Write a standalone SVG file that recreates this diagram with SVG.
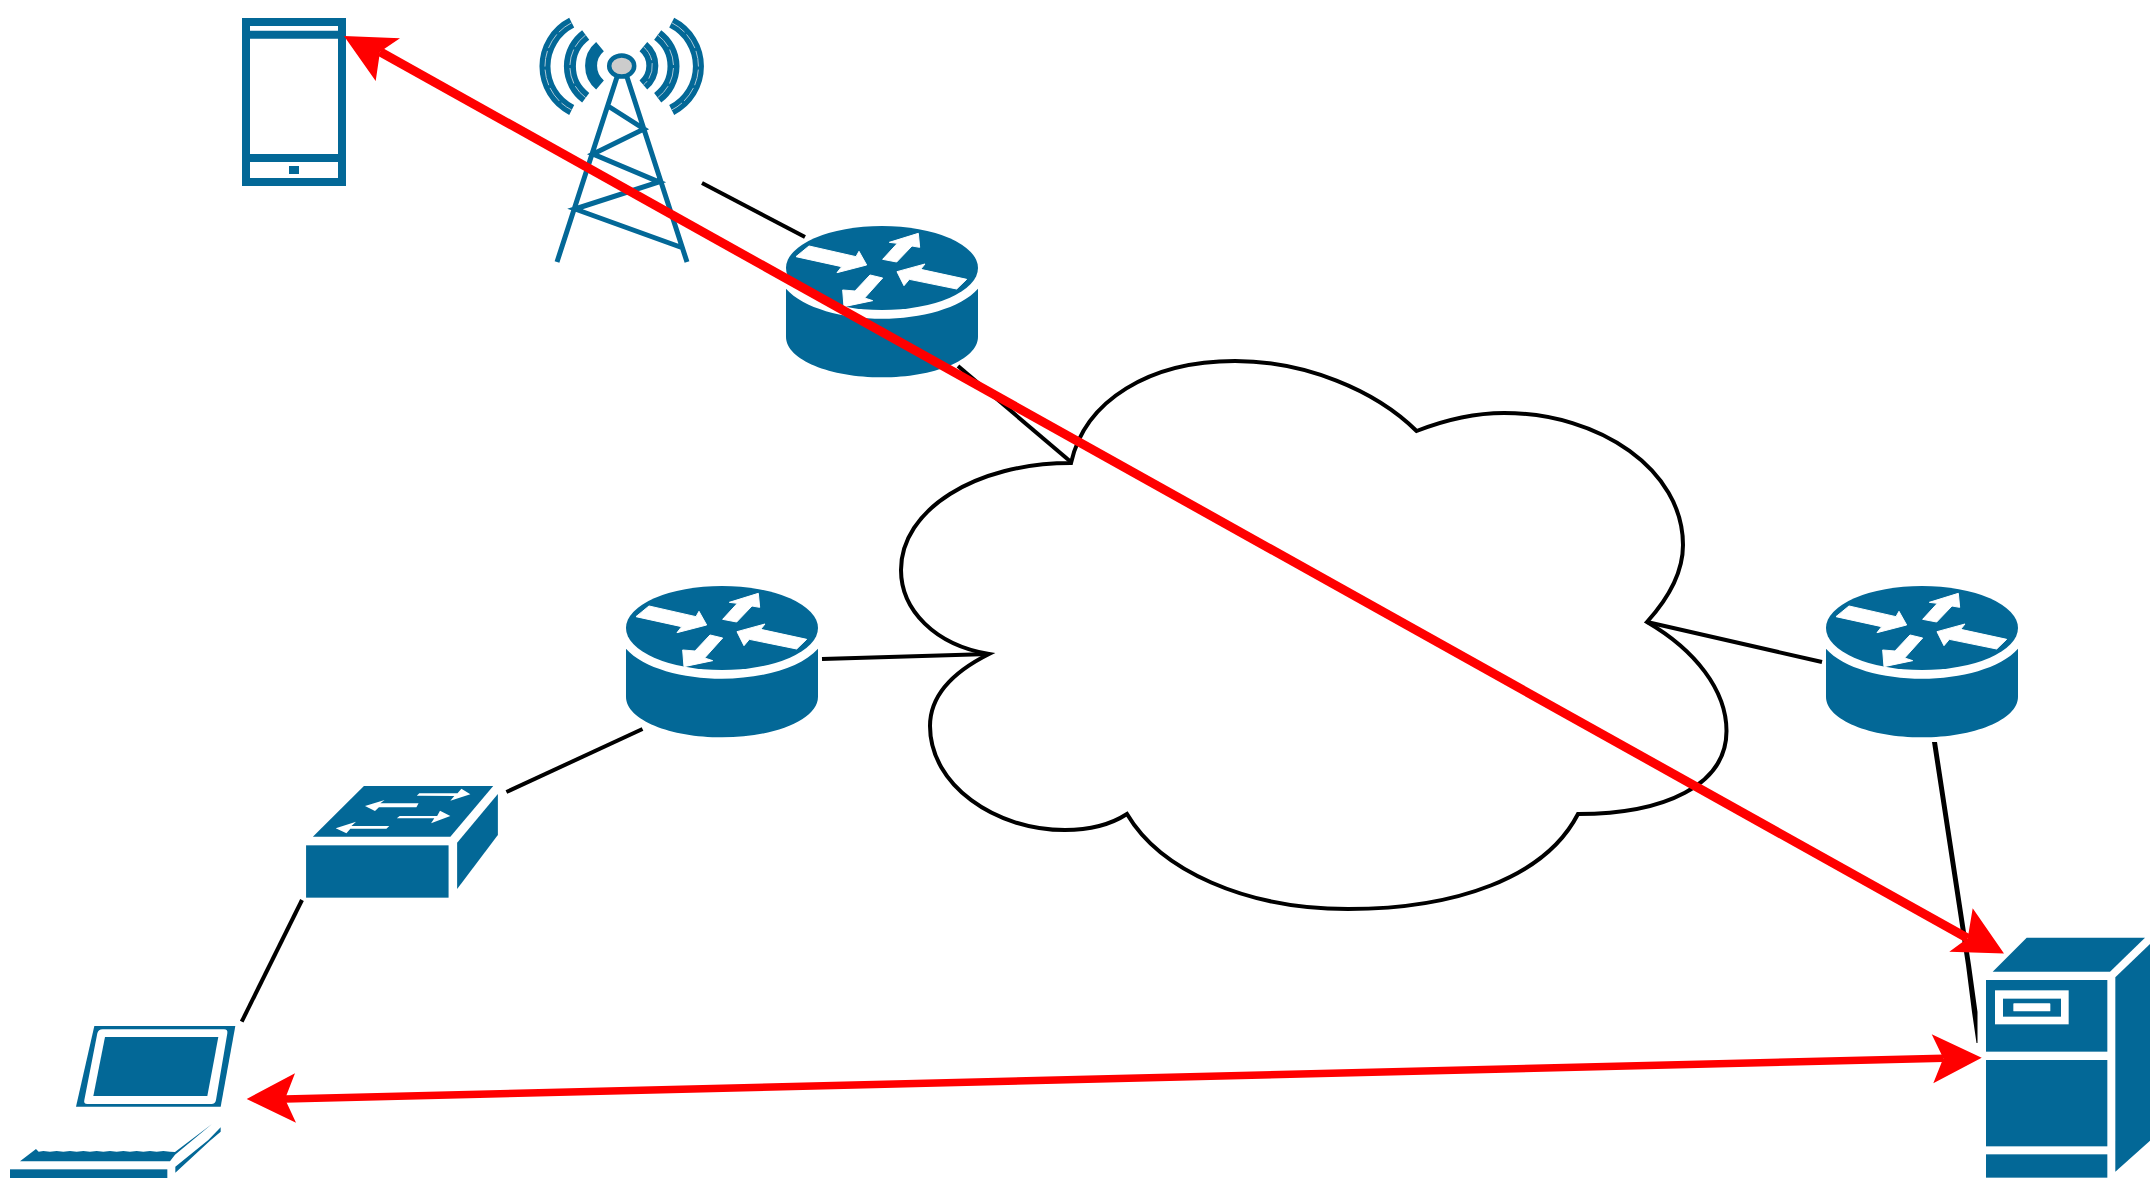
<svg xmlns="http://www.w3.org/2000/svg" width="2156" height="1188" viewBox="0 0 2156 1188">
<style>
.b{fill:#036897}
.w{fill:#fff}
.ra{fill:#fff;stroke:#fff;stroke-width:3}
.wire{stroke:#000;stroke-width:4;fill:none}
.red{stroke:#f00;stroke-width:9;fill:none}
.red2{stroke:#f00;stroke-width:7.5;fill:none}
.head{fill:#f00}
.tw{stroke:#036897;stroke-width:5;fill:none}
.arc{stroke:#036897;fill:none}
.hl{stroke:#a9c6d6;stroke-width:1;fill:none;stroke-dasharray:16 3}
</style>
<defs>
<g id="router-icon" transform="scale(0.33333)">
<ellipse class="b" cx="366" cy="174" rx="288" ry="126"/>
<path class="b" d="M78,236 C130,295 250,326 366,326 C482,326 602,295 654,236 V380 C654,450 520,502 366,502 C212,502 78,450 78,380 Z"/>
<polygon class="ra" points="108,140 147,108 288,140 297,124 320,165 231,188 245,170"/>
<polygon class="ra" points="368,148 412,100 388,97 475,70 479,112 456,108 410,156"/>
<polygon class="ra" points="620,208 590,237 448,208 432,227 411,185 495,162 482,178"/>
<polygon class="ra" points="368,204 330,195 285,243 248,240 252,290 338,272 314,264"/>
</g>
</defs>

<g id="cloud">
<path d="M1071,463 C1085,400 1150,361 1235,361 C1305,361 1375,390 1416.6,431 C1450,418 1478,413 1504,413 C1600,413 1683,470 1683,545 C1683,575 1666,601 1647,622 C1695,650 1726.5,690 1726.5,731 C1726.5,785 1665,814 1578,814 C1545,878 1455,909 1348,909 C1245,909 1160,870 1127,814 C1110,825 1090,830 1065,830 C995,830 930,785 930,726 C930,695 953,672 989,654 C935,645 901,610 901,570 C901,510 975,463 1071,463 Z" fill="#fff" stroke="#000" stroke-width="4"/>
</g>

<g id="phone">
<path class="b" fill-rule="evenodd" d="M242,18 H346 V186 H242 Z M250,26 V30.700 H338 V26 Z M250,38.700 V154 H338 V38.700 Z M250,162 V178 H338 V162 Z M289,166 H299 V174 H289 Z"/>
</g>

<g id="tower">
<ellipse cx="621.700" cy="66" rx="12.500" ry="10.500" fill="#ccc" stroke="#036897" stroke-width="4.500"/>
<path class="tw" d="M617,77 L557,262 M627,77 L687,262 M608,106 L644,129 L593,154 L659,182 L575,209 L683,248"/>
<path class="arc" stroke-width="12" d="M600,46.700 A25,25 0 0 0 600,85"/>
<path class="arc" stroke-width="12" d="M585.700,35 A39,39 0 0 0 585.700,97.700"/>
<path class="arc" stroke-width="11" d="M571.700,22.700 A49,49 0 0 0 571.700,110"/>
<path class="arc" stroke-width="12" d="M643.400,46.700 A25,25 0 0 1 643.400,85"/>
<path class="arc" stroke-width="12" d="M657.700,35 A39,39 0 0 1 657.700,97.700"/>
<path class="arc" stroke-width="11" d="M671.700,22.700 A49,49 0 0 1 671.700,110"/>
<path class="hl" d="M585.700,35 A39,39 0 0 0 585.700,97.700 M571.700,22.700 A49,49 0 0 0 571.700,110 M643.400,46.700 A25,25 0 0 1 643.400,85 M657.700,35 A39,39 0 0 1 657.700,97.700 M671.700,22.700 A49,49 0 0 1 671.700,110"/>
</g>

<g id="router-top"><use href="#router-icon" x="760" y="210"/></g>
<g id="router-middle"><use href="#router-icon" x="600" y="570"/></g>
<g id="router-right"><use href="#router-icon" x="1800" y="570"/></g>

<g id="switch" transform="translate(280 570) scale(0.35714 0.33333)">
<polygon class="b" points="235,648 597,648 477,800 92,800"/>
<rect class="b" x="73" y="826" width="399" height="157"/>
<polygon class="b" points="496,818 610,672 610,795 496,957"/>
<polygon class="w" points="383,677 390,670 497,670 508,656 533,673 477,692 488,678"/>
<polygon class="w" points="238,708 293,690 281,700 388,700 382,712 277,712 266,723"/>
<polygon class="w" points="327,745 335,738 440,738 448,722 477,738 423,760 432,745"/>
<polygon class="w" points="156,775 213,755 200,768 306,768 298,776 197,776 186,790"/>
</g>

<g id="laptop" transform="translate(0 1000) scale(0.33333)">
<polygon class="b" points="283,78 706,78 662,320 228,320"/>
<path class="w" d="M308,88 H672 Q684,88 682,100 L648,300 Q646,312 634,312 H262 Q250,312 253,300 L292,100 Q295,88 308,88 Z"/>
<polygon class="b" points="315,111 655,111 622,288 280,288"/>
<polygon class="b" points="60,484 108,447 116,455 130,453 150,455 170,453 190,455 210,453 230,455 250,453 270,455 290,453 310,455 330,453 350,455 370,453 390,455 410,453 430,455 450,453 470,455 490,453 510,455 525,456 636,372 525,464 510,484"/>
<rect class="b" x="30" y="508" width="472" height="26"/>
<polygon class="b" points="526,500 625,420 662,382 662,395 630,422 526,518"/>
</g>

<g id="server" transform="translate(1900 880) scale(0.33333)">
<polygon class="b" points="380,173 735,173 630,275 278,275"/>
<rect class="b" x="258" y="300" width="364" height="215"/>
<rect class="w" x="285" y="331" width="221" height="102"/>
<rect class="b" x="309" y="356" width="174" height="54"/>
<rect class="w" x="340" y="370" width="111" height="24" rx="2"/>
<rect class="b" x="258" y="540" width="364" height="259"/>
<rect class="b" x="258" y="823" width="364" height="70"/>
<polygon class="b" points="646,292 750,192 750,782 646,875"/>
</g>

<g id="connectors">
<path class="wire" d="M702,183 L805,237"/>
<path class="wire" d="M958,366 L1071,462"/>
<path class="wire" d="M822,659 L989,654"/>
<path class="wire" d="M1647,622 L1822,662"/>
<path class="wire" d="M642.500,729 L506.400,792"/>
<path class="wire" d="M302,900 L241.700,1021.700"/>
<polygon fill="#000" points="1932,742 1937,742 1971,965 1977.500,1012 1977.500,1043 1976.500,1043 1972,1012 1966,965"/>
<path class="red" d="M380,51.700 L1967.700,938.300"/>
<polygon class="head" points="344,36 400,38.300 380,51.700 375.700,81"/>
<polygon class="head" points="2004,953.500 1949.300,951.700 1967.700,938.300 1972.700,908.300"/>
<path class="red2" d="M285,1099 L1943.300,1058.300"/>
<polygon class="head" points="246.700,1099 295,1073.300 285,1099 296,1122.700"/>
<polygon class="head" points="1981.700,1057.700 1931.700,1034.300 1943.300,1058.300 1933.300,1083.300"/>
</g>
</svg>
